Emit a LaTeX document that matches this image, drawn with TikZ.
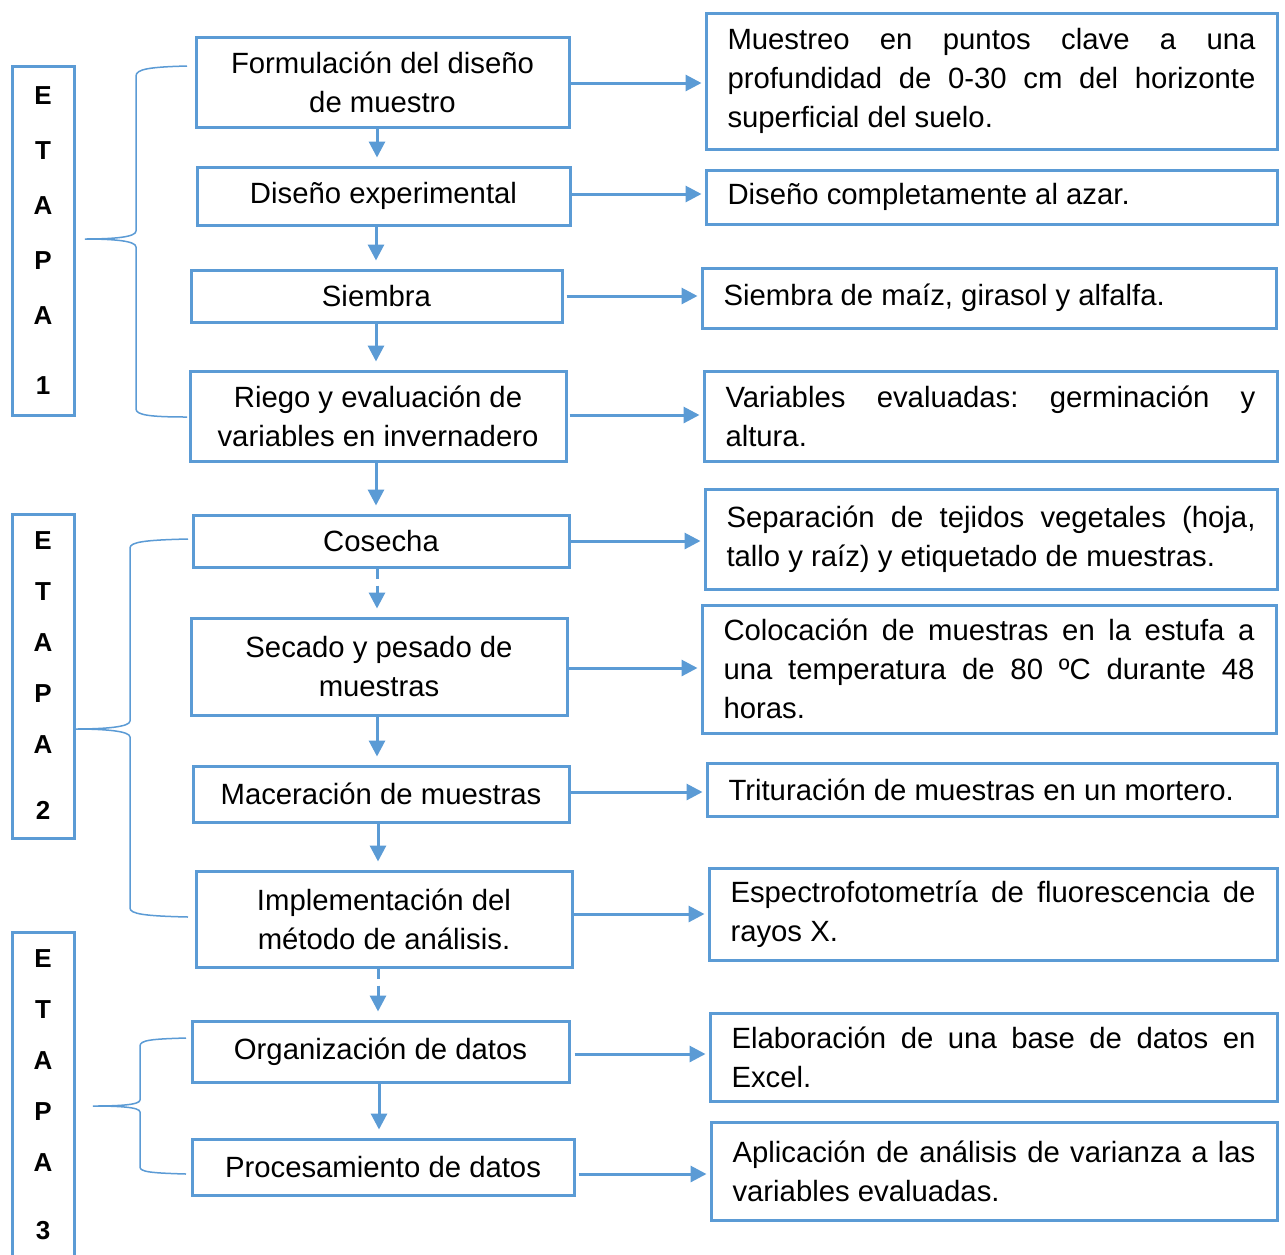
\documentclass[tikz,border=0pt]{standalone}
\usepackage{fontspec}
\setmainfont{Liberation Sans}
\usetikzlibrary{arrows.meta}
\definecolor{bl}{HTML}{5B9BD5}
\hyphenpenalty=10000
\exhyphenpenalty=10000
\tolerance=10000
\hbadness=10000
\frenchspacing
\begin{document}
\begin{tikzpicture}[x=1pt,y=-1pt,
  box/.style={draw=bl, line width=3pt, rectangle, inner sep=0pt},
  lbox/.style={box, align=center, font=\fontsize{29.3}{39}\selectfont},
  rbox/.style={box, align=justify, inner xsep=21.5pt, font=\fontsize{29.3}{39}\selectfont},
  ebox/.style={box, align=center, minimum width=62pt},
  arr/.style={draw=bl, line width=3pt, -{Triangle[length=16pt,width=16pt]}, shorten >=3pt},
  varr/.style={draw=bl, line width=3pt, -{Triangle[length=16pt,width=16pt]}, shorten >=8pt},
  dash arr/.style={varr, dash pattern=on 10pt off 7pt},
  bracestyle/.style={draw=bl, line width=1.5pt}
]
\useasboundingbox (0,0) rectangle (1285,1254);
\fill[white] (0,0) rectangle (1285,1254);

% Etapa boxes
\node[ebox, minimum height=349pt, font=\fontsize{26}{55}\selectfont\bfseries] (E1) at (43,240.5) {E\\T\\A\\P\\A\\[15pt]1};
\node[ebox, minimum height=324pt, font=\fontsize{26}{51}\selectfont\bfseries] (E2) at (43,676) {E\\T\\A\\P\\A\\[15pt]2};
\node[ebox, minimum height=325pt, font=\fontsize{26}{51}\selectfont\bfseries] (E3) at (43,1094.5) {E\\T\\A\\P\\A\\[17pt]3};

% Left boxes
\node[lbox, minimum width=373pt, minimum height=90pt] (L1) at (382.5,82) {Formulación del diseño\\de muestro};
\node[lbox, minimum width=373pt, minimum height=58pt] (L2) at (383.5,196) {Diseño experimental};
\node[lbox, minimum width=371pt, minimum height=52pt] (L3) at (376.5,296) {Siembra};
\node[lbox, minimum width=376pt, minimum height=90pt] (L4) at (378,416) {Riego y evaluación de\\variables en invernadero};
\node[lbox, minimum width=376pt, minimum height=52pt] (L5) at (381,541) {Cosecha};
\node[lbox, minimum width=376pt, minimum height=97pt] (L6) at (379,666.5) {Secado y pesado de\\muestras};
\node[lbox, minimum width=376pt, minimum height=56pt] (L7) at (381,794) {Maceración de muestras};
\node[lbox, minimum width=376pt, minimum height=96pt] (L8) at (384,919) {Implementación del\\método de análisis.};
\node[lbox, minimum width=377pt, minimum height=61pt] (L9) at (380.5,1051.5) {Organización de datos};
\node[lbox, minimum width=382pt, minimum height=56pt] (L10) at (383,1167) {Procesamiento de datos};

% Right boxes
\node[rbox, minimum width=571pt, text width=528pt, minimum height=136pt] (R1) at (991.5,81) {Muestreo en puntos clave a una\linebreak profundidad de 0-30 cm del horizonte\linebreak superficial del suelo.};
\node[rbox, minimum width=571pt, text width=528pt, minimum height=54pt] (R2) at (991.5,197) {Diseño completamente al azar.};
\node[rbox, minimum width=574pt, text width=531pt, minimum height=60pt] (R3) at (989,298) {Siembra de maíz, girasol y alfalfa.};
\node[rbox, minimum width=573pt, text width=530pt, minimum height=90pt] (R4) at (990.5,416) {Variables evaluadas: germinación y\linebreak altura.};
\node[rbox, minimum width=572pt, text width=529pt, minimum height=100pt] (R5) at (991,539) {Separación de tejidos vegetales (hoja,\linebreak tallo y raíz) y etiquetado de muestras.};
\node[rbox, minimum width=574pt, text width=531pt, minimum height=128pt] (R6) at (989,669) {Colocación de muestras en la estufa a\linebreak una temperatura de 80 ºC durante 48\linebreak horas.};
\node[rbox, minimum width=570pt, text width=527pt, minimum height=53pt] (R7) at (992,789.5) {Trituración de muestras en un mortero.};
\node[rbox, minimum width=568pt, text width=525pt, minimum height=92pt] (R8) at (993,914) {Espectrofotometría de fluorescencia de\linebreak rayos X.};
\node[rbox, minimum width=567pt, text width=524pt, minimum height=88pt] (R9) at (993.5,1057) {Elaboración de una base de datos en\linebreak Excel.};
\node[rbox, minimum width=566pt, text width=523pt, minimum height=98pt] (R10) at (994,1171) {Aplicación de análisis de varianza a las\linebreak variables evaluadas.};

% Horizontal arrows
\draw[arr] ([yshift=-1pt]L1.east) -- ([yshift=-1pt]L1.east -| R1.west);
\draw[arr] ([yshift=2pt]L2.east) -- ([yshift=2pt]L2.east -| R2.west);
\draw[arr] ([xshift=3pt]L3.east) -- (L3.east -| R3.west);
\draw[arr] ([xshift=2pt,yshift=1pt]L4.east) -- ([yshift=1pt]L4.east -| R4.west);
\draw[arr] (L5.east) -- (L5.east -| R5.west);
\draw[arr] ([yshift=-1.5pt]L6.east) -- ([yshift=-1.5pt]L6.east -| R6.west);
\draw[arr] ([yshift=2pt]L7.east) -- ([yshift=2pt]L7.east -| R7.west);
\draw[arr] ([xshift=-2pt,yshift=5pt]L8.east) -- ([yshift=5pt]L8.east -| R8.west);
\draw[arr] ([xshift=4pt,yshift=-2.5pt]L9.east) -- ([yshift=-2.5pt]L9.east -| R9.west);
\draw[arr] ([xshift=3pt,yshift=-7pt]L10.east) -- ([yshift=-7pt]L10.east -| R10.west);

% Vertical arrows
\coordinate (va) at (377,0);
\coordinate (vb) at (376,0);
\coordinate (vc) at (378,0);
\coordinate (vd) at (379,0);
\draw[varr] (L1.south -| va) -- (L2.north -| va);
\draw[varr] (L2.south -| vb) -- (L3.north -| vb);
\draw[varr] (L3.south -| vb) -- (L4.north -| vb);
\draw[varr] (L4.south -| vb) -- (L5.north -| vb);
\draw[dash arr] (L5.south -| va) -- (L6.north -| va);
\draw[varr] (L6.south -| va) -- (L7.north -| va);
\draw[varr] (L7.south -| vc) -- (L8.north -| vc);
\draw[dash arr] (L8.south -| vc) -- (L9.north -| vc);
\draw[varr] (L9.south -| vd) -- (L10.north -| vd);

% Braces
\draw[bracestyle] (187,66) .. controls (150,67) and (136,69) .. (136,76) -- (136,231)
  .. controls (136,237) and (115,239) .. (85,239)
  .. controls (115,239) and (136,241) .. (136,247) -- (136,409)
  .. controls (136,415) and (150,417) .. (187,417);
\draw[bracestyle] (188,539) .. controls (145,540) and (130,542) .. (130,548) -- (130,721)
  .. controls (130,727) and (105,729) .. (75,729)
  .. controls (105,729) and (130,731) .. (130,737) -- (130,908)
  .. controls (130,914) and (145,916) .. (188,917);
\draw[bracestyle] (186,1038) .. controls (152,1039) and (140,1040) .. (140,1046) -- (140,1100)
  .. controls (140,1105) and (118,1106) .. (93,1106)
  .. controls (118,1106) and (140,1107) .. (140,1112) -- (140,1167)
  .. controls (140,1172) and (152,1173) .. (186,1174);
\end{tikzpicture}
\end{document}
